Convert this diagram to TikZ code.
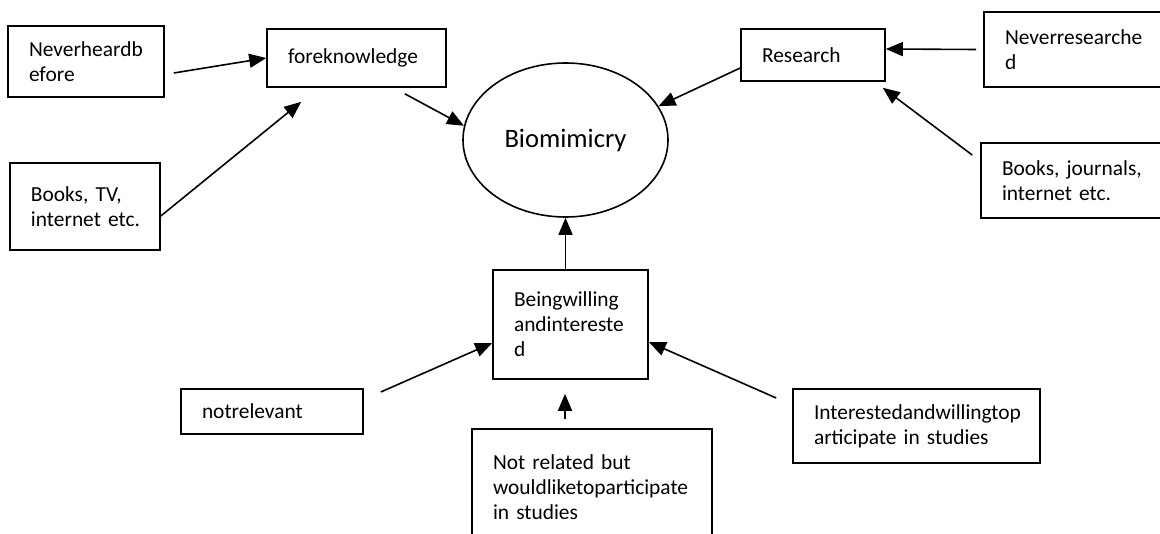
\documentclass[tikz,border=0pt]{standalone}
\usepackage{fontspec}
\setmainfont{Carlito}
\usetikzlibrary{arrows.meta,shapes.geometric}
\tikzset{
  box/.style={draw, line width=0.8pt, rectangle, inner xsep=10.5pt, inner ysep=0pt, align=left, font=\fontsize{10.7}{12.5}\selectfont},
  arr/.style={-{Triangle[length=8.5pt,width=7pt]}, line width=0.8pt},
}
\begin{document}
\begin{tikzpicture}[x=0.5pt,y=-0.5pt]
    \useasboundingbox (0,0) rectangle (1160,534);
    \clip (0,0) rectangle (1160,534);

    \node[box, minimum width=78pt, minimum height=35.5pt, text width=57pt] (nh) at (86,61.5) {Neverheardb\\efore};
    \node[box, minimum width=89.5pt, minimum height=29pt, text width=68.5pt] (fk) at (356.5,58) {foreknowledge};
    \node[box, minimum width=75pt, minimum height=43.5pt, text width=54pt] (btv) at (85,206.5) {Books, TV,\\\mbox{internet etc.}};
    \node[box, minimum width=72pt, minimum height=26pt, text width=51pt] (rs) at (813,55) {Research};
    \node[box, minimum width=98pt, minimum height=37.5pt, text width=77pt] (nr) at (1082,49.5) {Neverresearche\\d};
    \node[box, minimum width=99.5pt, minimum height=37.5pt, text width=78.5pt] (bj) at (1080.5,180.5) {Books, journals,\\internet etc.};
    \node[box, minimum width=77.5pt, minimum height=54.5pt, text width=56.5pt] (bw) at (570.5,324.5) {Beingwilling\\andintereste\\d};
    \node[box, minimum width=91pt, minimum height=22.5pt, text width=70pt] (nrel) at (272,411.5) {notrelevant};
    \node[box, minimum width=119pt, minimum height=58.5pt, text width=99pt] (nrp) at (592,487.5) {Not related but\\wouldliketoparticipate\\in studies};
    \node[box, minimum width=123.5pt, minimum height=37pt, text width=102.5pt] (iw) at (916.5,426) {Interestedandwillingtop\\articipate in studies};

    \node[draw, ellipse, line width=0.8pt, inner sep=0pt, minimum width=102.5pt, minimum height=77pt, font=\fontsize{13.3}{15}\selectfont] (bio) at (565.5,140) {Biomimicry};

    \draw[arr] ([shift={(9,11.5)}]nh.east) -- (fk.west);
    \draw[arr] ([shift={(0,9.5)}]btv.east) -- ([shift={(35,14)}]fk.south west);
    \draw[arr] ([shift={(-42,6)}]fk.south east) -- (bio.172);
    \draw[arr] ([shift={(0,13)}]rs.west) -- (bio.20);
    \draw[arr] ([shift={(-7,0)}]nr.west) -- ([shift={(0,-6)}]rs.east);
    \draw[arr] ([shift={(-8,-25.5)}]bj.west) -- ([shift={(-3,6)}]rs.south east);
    \draw[arr] ([shift={(-5,0)}]bw.north) -- (bio.south);
    \draw[arr] ([shift={(17,-19.5)}]nrel.east) -- ([shift={(0,18.5)}]bw.west);
    \draw[arr] ([shift={(-27,-9)}]nrp.north) -- ([shift={(-5.5,14)}]bw.south);
    \draw[arr] ([shift={(-16,-28)}]iw.west) -- ([shift={(0,17.5)}]bw.east);
\end{tikzpicture}
\end{document}
